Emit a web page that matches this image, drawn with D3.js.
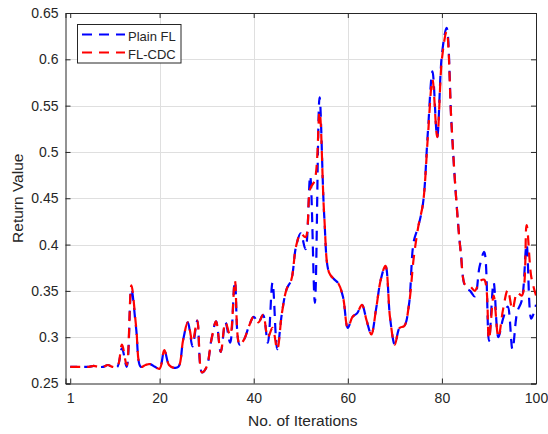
<!DOCTYPE html>
<html>
<head>
<meta charset="utf-8">
<script src="https://cdn.jsdelivr.net/npm/d3@7"></script>
<style>
  html, body { margin: 0; padding: 0; background: #fff; }
  svg { display: block; font-family: "Liberation Sans", Arial, Helvetica, sans-serif; }
</style>
</head>
<body>
<svg id="chart" width="548" height="434"></svg>
<script>
// ---- data ----
const iterations = d3.range(1, 101);
const plainFL = [
  0.268, 0.268, 0.268, 0.268, 0.268, 0.269, 0.268, 0.268, 0.270, 0.268,
  0.268, 0.288, 0.268, 0.352, 0.310, 0.268, 0.270, 0.271, 0.268, 0.266,
  0.286, 0.270, 0.267, 0.268, 0.297, 0.316, 0.290, 0.318, 0.262, 0.268,
  0.297, 0.317, 0.284, 0.316, 0.294, 0.360, 0.292, 0.298, 0.312, 0.322,
  0.316, 0.324, 0.294, 0.359, 0.287, 0.326, 0.352, 0.362, 0.398, 0.412,
  0.395, 0.474, 0.337, 0.559, 0.430, 0.370, 0.363, 0.358, 0.343, 0.310,
  0.322, 0.326, 0.335, 0.318, 0.303, 0.330, 0.362, 0.377, 0.320, 0.292,
  0.310, 0.312, 0.335, 0.403, 0.420, 0.445, 0.520, 0.587, 0.516, 0.605,
  0.634, 0.534, 0.452, 0.392, 0.354, 0.350, 0.344, 0.376, 0.392, 0.296,
  0.359, 0.300, 0.320, 0.333, 0.287, 0.327, 0.340, 0.400, 0.320, 0.335
];
const flCDC = [
  0.268, 0.268, 0.268, 0.268, 0.268, 0.269, 0.268, 0.268, 0.270, 0.268,
  0.268, 0.292, 0.270, 0.356, 0.312, 0.268, 0.270, 0.271, 0.268, 0.266,
  0.286, 0.270, 0.267, 0.268, 0.297, 0.316, 0.295, 0.318, 0.262, 0.268,
  0.297, 0.317, 0.284, 0.316, 0.302, 0.361, 0.292, 0.298, 0.312, 0.322,
  0.316, 0.324, 0.300, 0.310, 0.287, 0.326, 0.352, 0.362, 0.398, 0.412,
  0.408, 0.460, 0.470, 0.543, 0.430, 0.370, 0.363, 0.358, 0.343, 0.310,
  0.322, 0.326, 0.335, 0.318, 0.303, 0.330, 0.362, 0.377, 0.320, 0.292,
  0.310, 0.312, 0.335, 0.385, 0.420, 0.445, 0.515, 0.578, 0.516, 0.600,
  0.630, 0.534, 0.452, 0.392, 0.356, 0.355, 0.350, 0.360, 0.362, 0.298,
  0.345, 0.300, 0.330, 0.351, 0.330, 0.348, 0.345, 0.421, 0.365, 0.345
];
const xTicks = [1, 20, 40, 60, 80, 100];
const yTicks = [0.25, 0.3, 0.35, 0.4, 0.45, 0.5, 0.55, 0.6, 0.65];
const seriesNames = ["Plain FL", "FL-CDC"];
const seriesColors = ["#0000ff", "#ff0000"];

// ---- layout ----
const svg = d3.select("#chart");
const L = 65.5, R = 536, T = 13, B = 383.5;
const axisColor = "#262626";
const x = d3.scaleLinear().domain([0, 100]).range([L, R]);
const y = d3.scaleLinear().domain([0.25, 0.65]).range([B, T]);

svg.append("rect").attr("width", 548).attr("height", 434).attr("fill", "#fff");

// grid
const grid = svg.append("g").attr("stroke", "#dfdfdf").attr("stroke-width", 1);
grid.selectAll("line.gx").data(xTicks.filter(d => d > 1 && d < 100)).join("line")
  .attr("x1", d => Math.round(x(d)) + 0.5).attr("x2", d => Math.round(x(d)) + 0.5)
  .attr("y1", T).attr("y2", B);
grid.selectAll("line.gy").data(yTicks.filter(d => d > 0.25 && d < 0.65)).join("line")
  .attr("y1", d => Math.round(y(d)) + 0.5).attr("y2", d => Math.round(y(d)) + 0.5)
  .attr("x1", L).attr("x2", R);

// axes using d3 axis generators (inward ticks)
const fmtY = d => String(+d.toFixed(2));
const axB = svg.append("g").attr("transform", `translate(0,${B})`)
  .call(d3.axisBottom(x).tickValues(xTicks).tickSize(-5).tickPadding(10).tickFormat(d3.format("d")));
const axT = svg.append("g").attr("transform", `translate(0,${T})`)
  .call(d3.axisTop(x).tickValues(xTicks).tickSize(-5).tickFormat(""));
const axL = svg.append("g").attr("transform", `translate(${L},0)`)
  .call(d3.axisLeft(y).tickValues(yTicks).tickSize(-5).tickPadding(7).tickFormat(fmtY));
const axR = svg.append("g").attr("transform", `translate(${R},0)`)
  .call(d3.axisRight(y).tickValues(yTicks).tickSize(-5).tickFormat(""));
[axB, axT, axL, axR].forEach(g => {
  g.select(".domain").attr("stroke", axisColor).attr("stroke-width", 1);
  g.selectAll(".tick line").attr("stroke", axisColor).attr("stroke-width", 1);
  g.selectAll(".tick text").attr("fill", axisColor).attr("font-size", 14)
    .attr("font-family", "Liberation Sans, Arial, sans-serif");
});

// clip
svg.append("clipPath").attr("id", "clip").append("rect")
  .attr("x", L).attr("y", T).attr("width", R - L).attr("height", B - T);

// lines
const line = d3.line()
  .x((d, i) => x(iterations[i]))
  .y(d => y(d))
  .curve(d3.curveCatmullRom.alpha(0.5));
const plot = svg.append("g").attr("clip-path", "url(#clip)");
const dashOffsets = [3, 0];
[plainFL, flCDC].forEach((s, k) => {
  plot.append("path").datum(s)
    .attr("fill", "none")
    .attr("stroke", seriesColors[k])
    .attr("stroke-width", 2.2)
    .attr("stroke-dasharray", "10,7")
    .attr("stroke-dashoffset", dashOffsets[k])
    .attr("d", line);
});

// labels
svg.append("text").attr("x", (L + R) / 2 + 2).attr("y", 426)
  .attr("text-anchor", "middle").attr("font-size", 15.5).attr("fill", axisColor)
  .text("No. of Iterations");
svg.append("text").attr("transform", `translate(23,${(T + B) / 2}) rotate(-90)`)
  .attr("text-anchor", "middle").attr("font-size", 15.5).attr("fill", axisColor)
  .text("Return Value");

// legend
const lg = svg.append("g");
lg.append("rect").attr("x", 77.5).attr("y", 24.5).attr("width", 103.5).attr("height", 38.5)
  .attr("fill", "#fff").attr("stroke", axisColor).attr("stroke-width", 1);
seriesNames.forEach((n, k) => {
  const yy = 34.5 + k * 18;
  lg.append("line").attr("x1", 82).attr("x2", 125).attr("y1", yy).attr("y2", yy)
    .attr("stroke", seriesColors[k]).attr("stroke-width", 2).attr("stroke-dasharray", "10,7");
  lg.append("text").attr("x", 128).attr("y", yy + 6).attr("font-size", 13)
    .attr("fill", axisColor).text(n);
});
</script>
</body>
</html>
